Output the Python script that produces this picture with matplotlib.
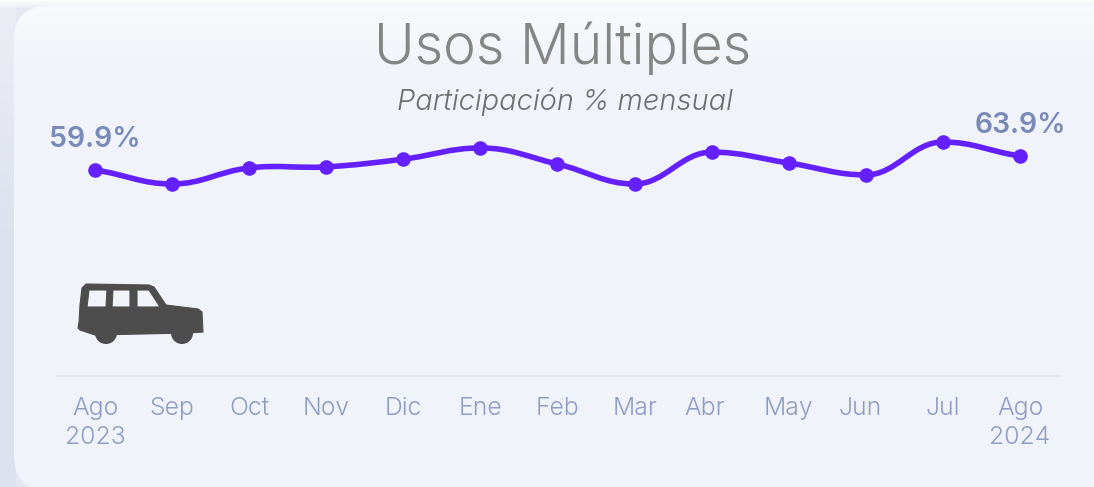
import matplotlib

matplotlib.use("Agg")
import matplotlib.pyplot as plt
import numpy as np
from matplotlib.colors import LinearSegmentedColormap
from matplotlib.patches import Circle, FancyBboxPatch, PathPatch
from matplotlib.path import Path
from matplotlib.transforms import ScaledTranslation

W, H = 1094, 487

months = ["Ago\n2023", "Sep", "Oct", "Nov", "Dic", "Ene", "Feb", "Mar", "Abr", "May", "Jun", "Jul", "Ago\n2024"]
values = [59.9, 55.9, 60.5, 60.8, 63.0, 66.2, 61.6, 55.9, 65.0, 61.9, 58.5, 67.9, 63.9]
first_label = "59.9%"
last_label = "63.9%"
title = "Usos Múltiples"
subtitle = "Participación % mensual"

LINE = "#6420ff"
LABEL = "#7a8ab8"
TICK = "#8f9dc4"
CARD = "#f0f3f9"
CAR = "#4d4d4d"

plt.rcParams["font.family"] = ["Inter", "DejaVu Sans"]

fig = plt.figure(figsize=(W / 100, H / 100), dpi=100, facecolor="#e4e7f1")


def px_axes(left, top, right, bottom, **kw):
    return fig.add_axes([left / W, 1 - bottom / H, (right - left) / W, (bottom - top) / H], **kw)


# backdrop and card, in pixel coordinates
bg = px_axes(0, 0, W, H)
bg.axis("off")
shade = np.linspace(0, 1, 100).reshape(-1, 1)
bg.imshow(shade, extent=(0, 16, H, 0), aspect="auto",
          cmap=LinearSegmentedColormap.from_list("s", ["#eceef6", "#dde1ee", "#dde1ee"]))
top_strip = np.dstack([np.ones((8, 1, 3)), np.linspace(0.9, 0.3, 8).reshape(-1, 1)])
bg.imshow(top_strip, extent=(0, W, 8, 0), aspect="auto", zorder=1)
card = FancyBboxPatch((14 + 34, 6 + 34), W + 60, 490 - 6 - 68, boxstyle="round,pad=34,rounding_size=34",
                      fc=CARD, ec="none", zorder=2)
bg.add_patch(card)
top_fade = np.linspace(0.55, 0, 70).reshape(-1, 1)
fade = np.dstack([np.ones((70, 1, 3)), top_fade])
im = bg.imshow(fade, extent=(14, W, 76, 6), aspect="auto", zorder=3)
im.set_clip_path(card)
bg.set_xlim(0, W)
bg.set_ylim(H, 0)
bg.text(563, 48, title, ha="center", va="center", fontsize=39.8, fontweight=300, color="#858585", zorder=5)
bg.text(565, 102, subtitle, ha="center", va="center", fontsize=20.9, fontweight=300, fontstyle="italic",
        color="#6f6f6f", zorder=5)

# chart axes: bottom edge is the baseline
ax = px_axes(56, 100, 1060, 376)
ax.patch.set_alpha(0)
x = np.arange(len(values))
step = 77.08
ax.set_xlim(-(95 - 56) / step, 12 + (1060 - 1020) / step)
ax.set_ylim(1.04, 79.9)

# smooth curve through the points, flat tangents at local extremes
y = np.array(values)
slopes = np.zeros(len(y))
for i in range(1, len(y) - 1):
    if (y[i] - y[i - 1]) * (y[i + 1] - y[i]) > 0:
        slopes[i] = (y[i + 1] - y[i - 1]) / 2
slopes[0] = (y[1] - y[0]) * 0.8
slopes[-1] = (y[-1] - y[-2]) * 0.8
verts = [(x[0], y[0])]
codes = [Path.MOVETO]
for i in range(len(y) - 1):
    verts += [(x[i] + 0.4, y[i] + slopes[i] * 0.4), (x[i + 1] - 0.4, y[i + 1] - slopes[i + 1] * 0.4), (x[i + 1], y[i + 1])]
    codes += [Path.CURVE4] * 3
ax.add_patch(PathPatch(Path(verts, codes), fc="none", ec=LINE, lw=4, capstyle="round"))
ax.plot(x, y, "o", color=LINE, ms=10.5, mec="none", zorder=4, clip_on=False)

ax.annotate(first_label, (x[0], y[0]), xytext=(0, 17), textcoords="offset pixels", ha="center", va="bottom",
            fontsize=20.4, fontweight="semibold", color=LABEL)
ax.annotate(last_label, (x[-1], y[-1]), xytext=(0, 17), textcoords="offset pixels", ha="center", va="bottom",
            fontsize=20.4, fontweight="semibold", color=LABEL)

for s in ("top", "left", "right"):
    ax.spines[s].set_visible(False)
ax.spines["bottom"].set_color("#e4e7ef")
ax.spines["bottom"].set_linewidth(1.3)
ax.set_yticks([])
ax.set_xticks(x, months)
ax.tick_params(axis="x", length=0, pad=15, labelsize=17.8, labelcolor=TICK)
offsets = {8: -7, 10: -6}
for i, lab in enumerate(ax.get_xticklabels()):
    lab.set_fontweight(300)
    lab.set_linespacing(1.34)
    lab.set_verticalalignment("top")
    if i in offsets:
        lab.set_transform(lab.get_transform() + ScaledTranslation(offsets[i] / 100, 0, fig.dpi_scale_trans))

# car icon
icon = px_axes(70, 275, 210, 350)
icon.set_xlim(70, 210)
icon.set_ylim(350, 275)
icon.axis("off")
body = [(86, 284), (149, 285), (154, 287), (166, 305), (198, 309), (202, 312), (203, 332), (190, 333),
        (95, 335), (80, 330), (78, 328), (79, 322), (80, 305), (82, 288), (86, 284)]
windows = [[(89, 290), (87, 307), (106, 307), (107, 290)],
           [(113, 290), (112, 307), (130, 307), (130, 290)],
           [(137, 290), (137, 307), (160, 307), (149, 290)]]
v = list(body)
c = [Path.MOVETO] + [Path.LINETO] * (len(body) - 2) + [Path.CLOSEPOLY]
for w in windows:
    v += w + [w[0]]
    c += [Path.MOVETO] + [Path.LINETO] * (len(w) - 1) + [Path.CLOSEPOLY]
icon.add_patch(PathPatch(Path(v, c), fc=CAR, ec=CAR, lw=0.8, joinstyle="round"))
icon.add_patch(Circle((106, 333), 11, fc=CAR, ec="none"))
icon.add_patch(Circle((182, 333), 11, fc=CAR, ec="none"))

fig.savefig("out.png", dpi=100, facecolor=fig.get_facecolor())
